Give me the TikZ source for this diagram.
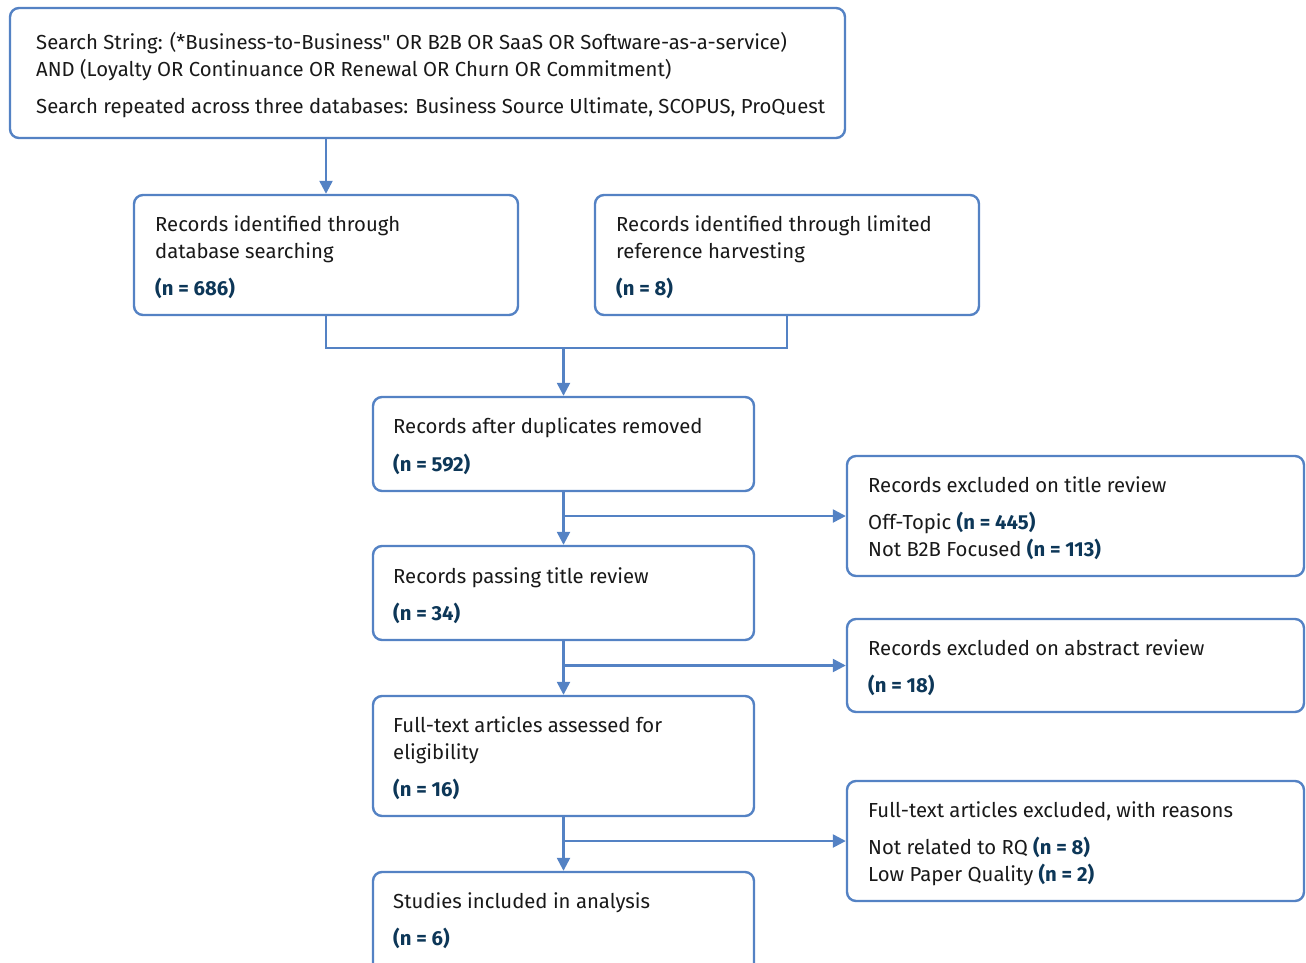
\documentclass[tikz,border=0pt]{standalone}
\usepackage{fontspec}
\setmainfont{Fira Sans}
\newfontfamily\plainfira{Fira Sans}
\usetikzlibrary{arrows.meta,calc}
\definecolor{bordercol}{RGB}{84,130,196}
\definecolor{numcol}{RGB}{13,55,88}
\definecolor{txtcol}{RGB}{25,25,25}
\newcommand{\nn}[1]{\textbf{\color{numcol}#1}}
\begin{document}
\begin{tikzpicture}[x=1pt,y=-1pt,
  box/.style={draw=bordercol,line width=2.4pt,rounded corners=9pt,fill=white,inner sep=0pt},
  txt/.style={anchor=base west,inner sep=0pt,font=\fontsize{20.3}{24}\selectfont,text=txtcol},
  conn/.style={draw=bordercol,line width=2.4pt},
  arr/.style={conn,-{Triangle[length=13pt,width=13pt]}}]
\useasboundingbox (0,0) rectangle (1306,962);
% boxes
\node[box,minimum width=835,minimum height=130] (top) at (427.5,73) {};
\node[box,minimum width=384,minimum height=120] (a) at (326,255) {};
\node[box,minimum width=384,minimum height=120] (b) at (787,255) {};
\node[box,minimum width=381,minimum height=94] (c) at (563.5,444) {};
\node[box,minimum width=457,minimum height=120] (d) at (1075.5,516) {};
\node[box,minimum width=381,minimum height=94] (e) at (563.5,593) {};
\node[box,minimum width=457,minimum height=93] (f) at (1075.5,665.5) {};
\node[box,minimum width=381,minimum height=120] (g) at (563.5,756) {};
\node[box,minimum width=457,minimum height=120] (h) at (1075.5,841) {};
\node[box,minimum width=381,minimum height=120] (i) at (563.5,932) {};
% texts
\node[txt] (t1) at (36,49) {Search String: (*Business-to-Business{\plainfira"} OR B2B OR SaaS OR Software-as-a-service)};
\node[txt] (t2) at (36,76) {AND (Loyalty OR Continuance OR Renewal OR Churn OR Commitment)};
\node[txt] (t3) at (36,113) {Search repeated across three databases: Business Source Ultimate, SCOPUS, ProQuest};
\node[txt] (a1) at (155,231) {Records identified through};
\node[txt] (a2) at (155,258) {database searching};
\node[txt] (a3) at (155,295) {\nn{(n = 686)}};
\node[txt] (b1) at (616,231) {Records identified through limited};
\node[txt] (b2) at (616,258) {reference harvesting};
\node[txt] (b3) at (616,295) {\nn{(n = 8)}};
\node[txt] (c1) at (393,433) {Records after duplicates removed};
\node[txt] (c2) at (393,471) {\nn{(n = 592)}};
\node[txt] (d1) at (868,492) {Records excluded on title review};
\node[txt] (d2) at (868,529) {Off-Topic \nn{(n = 445)}};
\node[txt] (d3) at (868,556) {Not B2B Focused \nn{(n = 113)}};
\node[txt] (e1) at (393,583) {Records passing title review};
\node[txt] (e2) at (393,620) {\nn{(n = 34)}};
\node[txt] (f1) at (868,655) {Records excluded on abstract review};
\node[txt] (f2) at (868,692) {\nn{(n = 18)}};
\node[txt] (g1) at (393,732) {Full-text articles assessed for};
\node[txt] (g2) at (393,759) {eligibility};
\node[txt] (g3) at (393,796) {\nn{(n = 16)}};
\node[txt] (h1) at (868,817) {Full-text articles excluded, with reasons};
\node[txt] (h2) at (868,854) {Not related to RQ \nn{(n = 8)}};
\node[txt] (h3) at (868,881) {Low Paper Quality \nn{(n = 2)}};
\node[txt] (i1) at (393,908) {Studies included in analysis};
\node[txt] (i2) at (393,945) {\nn{(n = 6)}};
% connectors
\draw[arr] (a.north |- top.south) -- (a.north);
\coordinate (m) at (563.5,348);
\draw[conn] (a.south) |- (m) -| (b.south);
\draw[arr] (m) -- (c.north);
\draw[arr] (c.south) -- (e.north);
\draw[arr] (c.south |- d.west) -- (d.west);
\draw[arr] (e.south) -- (g.north);
\draw[arr] (e.south |- f.west) -- (f.west);
\draw[arr] (g.south) -- (i.north);
\draw[arr] (g.south |- h.west) -- (h.west);
\end{tikzpicture}
\end{document}
